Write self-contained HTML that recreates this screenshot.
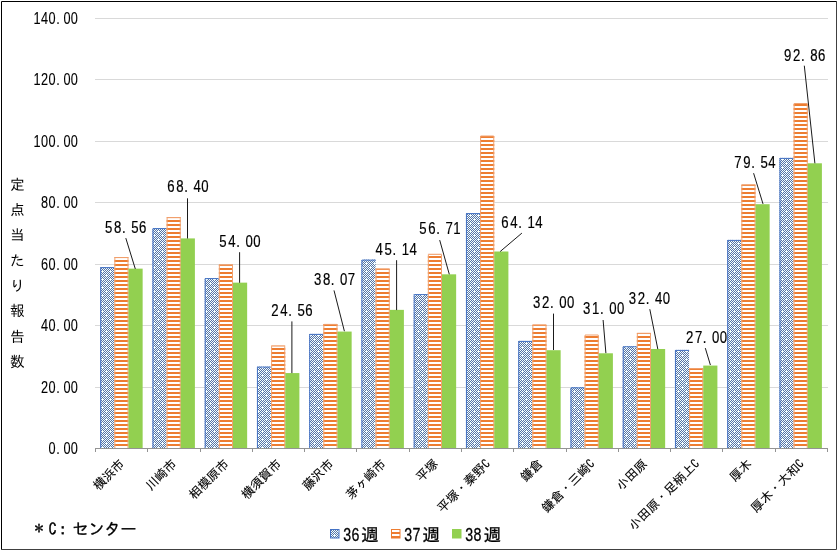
<!DOCTYPE html><html><head><meta charset="utf-8"><style>
html,body{margin:0;padding:0;background:#fff;width:838px;height:551px;overflow:hidden}
svg{display:block}
text{font-family:"IPAGothic","Liberation Sans",sans-serif;fill:#000;stroke:#000;stroke-width:0.3px}
.ax,.dl,.lgd{font-family:"Liberation Sans",sans-serif}
.ax{font-size:16.5px;stroke-width:0.1px}
.dl{font-size:16.8px;stroke-width:0.2px}
.cat{font-size:12.5px;stroke-width:0.12px}
.tt{font-size:14.7px;stroke:none}
.fn{font-size:16px}
.lgd{font-size:19.2px}
.lgk{font-size:17.5px}
</style></head><body>
<svg width="838" height="551" viewBox="0 0 838 551">
<defs>
<pattern id="pb" patternUnits="userSpaceOnUse" x="0" y="0" width="8" height="8"><rect width="8" height="8" fill="#F4FFFF"/><path fill="#5873A6" d="M1 0h1v1h-1zM3 0h1v1h-1zM5 0h1v1h-1zM7 0h1v1h-1zM0 1h1v1h-1zM2 1h1v1h-1zM4 1h1v1h-1zM6 1h1v1h-1zM1 2h1v1h-1zM3 2h1v1h-1zM5 2h1v1h-1zM7 2h1v1h-1zM0 3h1v1h-1zM4 3h1v1h-1zM6 3h1v1h-1zM1 4h1v1h-1zM3 4h1v1h-1zM5 4h1v1h-1zM7 4h1v1h-1zM0 5h1v1h-1zM2 5h1v1h-1zM4 5h1v1h-1zM6 5h1v1h-1zM1 6h1v1h-1zM3 6h1v1h-1zM5 6h1v1h-1zM7 6h1v1h-1zM0 7h1v1h-1zM2 7h1v1h-1zM4 7h1v1h-1z"/></pattern>
<pattern id="po" patternUnits="userSpaceOnUse" x="0" y="0" width="4" height="4"><rect width="4" height="4" fill="#fff"/><rect width="4" height="2" fill="#ED7D31"/></pattern>
</defs>
<rect x="0" y="0" width="838" height="551" fill="#fff"/>
<line x1="95" y1="387.5" x2="828" y2="387.5" stroke="#D9D9D9" stroke-width="1"/>
<line x1="95" y1="325.5" x2="828" y2="325.5" stroke="#D9D9D9" stroke-width="1"/>
<line x1="95" y1="264.5" x2="828" y2="264.5" stroke="#D9D9D9" stroke-width="1"/>
<line x1="95" y1="202.5" x2="828" y2="202.5" stroke="#D9D9D9" stroke-width="1"/>
<line x1="95" y1="141.5" x2="828" y2="141.5" stroke="#D9D9D9" stroke-width="1"/>
<line x1="95" y1="79.5" x2="828" y2="79.5" stroke="#D9D9D9" stroke-width="1"/>
<line x1="95" y1="18.5" x2="828" y2="18.5" stroke="#D9D9D9" stroke-width="1"/>
<rect x="100.20" y="267.10" width="14.15" height="180.90" fill="url(#pb)"/>
<path d="M100.70 448V267.60H114.35" fill="none" stroke="#4472C4" stroke-width="1"/>
<rect x="114.35" y="257.10" width="14.15" height="190.90" fill="url(#po)"/>
<path d="M114.85 448V257.60H128.00V448" fill="none" stroke="#F1A270" stroke-width="1"/>
<rect x="128.50" y="268.64" width="14.15" height="179.36" fill="#92D050"/>
<rect x="152.45" y="228.10" width="14.15" height="219.90" fill="url(#pb)"/>
<path d="M152.95 448V228.60H166.60" fill="none" stroke="#4472C4" stroke-width="1"/>
<rect x="166.60" y="217.20" width="14.15" height="230.80" fill="url(#po)"/>
<path d="M167.10 448V217.70H180.25V448" fill="none" stroke="#F1A270" stroke-width="1"/>
<rect x="180.75" y="238.41" width="14.15" height="209.59" fill="#92D050"/>
<rect x="204.70" y="278.10" width="14.15" height="169.90" fill="url(#pb)"/>
<path d="M205.20 448V278.60H218.85" fill="none" stroke="#4472C4" stroke-width="1"/>
<rect x="218.85" y="264.50" width="14.15" height="183.50" fill="url(#po)"/>
<path d="M219.35 448V265.00H232.50V448" fill="none" stroke="#F1A270" stroke-width="1"/>
<rect x="233.00" y="282.64" width="14.15" height="165.36" fill="#92D050"/>
<rect x="256.95" y="366.60" width="14.15" height="81.40" fill="url(#pb)"/>
<path d="M257.45 448V367.10H271.10" fill="none" stroke="#4472C4" stroke-width="1"/>
<rect x="271.10" y="345.60" width="14.15" height="102.40" fill="url(#po)"/>
<path d="M271.60 448V346.10H284.75V448" fill="none" stroke="#F1A270" stroke-width="1"/>
<rect x="285.25" y="373.07" width="14.15" height="74.93" fill="#92D050"/>
<rect x="309.20" y="333.90" width="14.15" height="114.10" fill="url(#pb)"/>
<path d="M309.70 448V334.40H323.35" fill="none" stroke="#4472C4" stroke-width="1"/>
<rect x="323.35" y="323.90" width="14.15" height="124.10" fill="url(#po)"/>
<path d="M323.85 448V324.40H337.00V448" fill="none" stroke="#F1A270" stroke-width="1"/>
<rect x="337.50" y="331.57" width="14.15" height="116.43" fill="#92D050"/>
<rect x="361.45" y="259.60" width="14.15" height="188.40" fill="url(#pb)"/>
<path d="M361.95 448V260.10H375.60" fill="none" stroke="#4472C4" stroke-width="1"/>
<rect x="375.60" y="268.60" width="14.15" height="179.40" fill="url(#po)"/>
<path d="M376.10 448V269.10H389.25V448" fill="none" stroke="#F1A270" stroke-width="1"/>
<rect x="389.75" y="309.86" width="14.15" height="138.14" fill="#92D050"/>
<rect x="413.70" y="294.10" width="14.15" height="153.90" fill="url(#pb)"/>
<path d="M414.20 448V294.60H427.85" fill="none" stroke="#4472C4" stroke-width="1"/>
<rect x="427.85" y="253.90" width="14.15" height="194.10" fill="url(#po)"/>
<path d="M428.35 448V254.40H441.50V448" fill="none" stroke="#F1A270" stroke-width="1"/>
<rect x="442.00" y="274.32" width="14.15" height="173.68" fill="#92D050"/>
<rect x="465.95" y="213.10" width="14.15" height="234.90" fill="url(#pb)"/>
<path d="M466.45 448V213.60H480.10" fill="none" stroke="#4472C4" stroke-width="1"/>
<rect x="480.10" y="135.50" width="14.15" height="312.50" fill="url(#po)"/>
<path d="M480.60 448V136.00H493.75V448" fill="none" stroke="#F1A270" stroke-width="1"/>
<rect x="494.25" y="251.50" width="14.15" height="196.50" fill="#92D050"/>
<rect x="518.20" y="340.90" width="14.15" height="107.10" fill="url(#pb)"/>
<path d="M518.70 448V341.40H532.35" fill="none" stroke="#4472C4" stroke-width="1"/>
<rect x="532.35" y="324.60" width="14.15" height="123.40" fill="url(#po)"/>
<path d="M532.85 448V325.10H546.00V448" fill="none" stroke="#F1A270" stroke-width="1"/>
<rect x="546.50" y="350.21" width="14.15" height="97.79" fill="#92D050"/>
<rect x="570.45" y="387.30" width="14.15" height="60.70" fill="url(#pb)"/>
<path d="M570.95 448V387.80H584.60" fill="none" stroke="#4472C4" stroke-width="1"/>
<rect x="584.60" y="334.50" width="14.15" height="113.50" fill="url(#po)"/>
<path d="M585.10 448V335.00H598.25V448" fill="none" stroke="#F1A270" stroke-width="1"/>
<rect x="598.75" y="353.29" width="14.15" height="94.71" fill="#92D050"/>
<rect x="622.70" y="346.30" width="14.15" height="101.70" fill="url(#pb)"/>
<path d="M623.20 448V346.80H636.85" fill="none" stroke="#4472C4" stroke-width="1"/>
<rect x="636.85" y="332.90" width="14.15" height="115.10" fill="url(#po)"/>
<path d="M637.35 448V333.40H650.50V448" fill="none" stroke="#F1A270" stroke-width="1"/>
<rect x="651.00" y="348.99" width="14.15" height="99.01" fill="#92D050"/>
<rect x="674.95" y="349.90" width="14.15" height="98.10" fill="url(#pb)"/>
<path d="M675.45 448V350.40H689.10" fill="none" stroke="#4472C4" stroke-width="1"/>
<rect x="689.10" y="368.10" width="14.15" height="79.90" fill="url(#po)"/>
<path d="M689.60 448V368.60H702.75V448" fill="none" stroke="#F1A270" stroke-width="1"/>
<rect x="703.25" y="365.57" width="14.15" height="82.43" fill="#92D050"/>
<rect x="727.20" y="239.90" width="14.15" height="208.10" fill="url(#pb)"/>
<path d="M727.70 448V240.40H741.35" fill="none" stroke="#4472C4" stroke-width="1"/>
<rect x="741.35" y="184.50" width="14.15" height="263.50" fill="url(#po)"/>
<path d="M741.85 448V185.00H755.00V448" fill="none" stroke="#F1A270" stroke-width="1"/>
<rect x="755.50" y="204.20" width="14.15" height="243.80" fill="#92D050"/>
<rect x="779.45" y="157.90" width="14.15" height="290.10" fill="url(#pb)"/>
<path d="M779.95 448V158.40H793.60" fill="none" stroke="#4472C4" stroke-width="1"/>
<rect x="793.60" y="103.00" width="14.15" height="345.00" fill="url(#po)"/>
<path d="M794.10 448V103.50H807.25V448" fill="none" stroke="#F1A270" stroke-width="1"/>
<rect x="807.75" y="163.29" width="14.15" height="284.71" fill="#92D050"/>
<path d="M95 448.5H828" stroke="#939393" stroke-width="1" fill="none"/>
<path d="M95.5 448V452M147.5 448V452M200.5 448V452M252.5 448V452M304.5 448V452M356.5 448V452M409.5 448V452M461.5 448V452M513.5 448V452M566.5 448V452M618.5 448V452M670.5 448V452M722.5 448V452M775.5 448V452M827.5 448V452" stroke="#939393" stroke-width="1" fill="none"/>
<text class="ax" transform="translate(0 453.69) scale(0.77 1)" x="63.02 73.01 82.37 91.73" y="0">0.00</text>
<text class="ax" transform="translate(0 392.69) scale(0.77 1)" x="53.15 63.02 73.01 82.37 91.73" y="0">20.00</text>
<text class="ax" transform="translate(0 330.69) scale(0.77 1)" x="53.15 63.02 73.01 82.37 91.73" y="0">40.00</text>
<text class="ax" transform="translate(0 269.69) scale(0.77 1)" x="53.15 63.02 73.01 82.37 91.73" y="0">60.00</text>
<text class="ax" transform="translate(0 207.69) scale(0.77 1)" x="53.15 63.02 73.01 82.37 91.73" y="0">80.00</text>
<text class="ax" transform="translate(0 146.69) scale(0.77 1)" x="43.67 53.15 63.02 73.01 82.37 91.73" y="0">100.00</text>
<text class="ax" transform="translate(0 84.69) scale(0.77 1)" x="43.67 53.15 63.02 73.01 82.37 91.73" y="0">120.00</text>
<text class="ax" transform="translate(0 23.69) scale(0.77 1)" x="43.67 53.15 63.02 73.01 82.37 91.73" y="0">140.00</text>
<path d="M125.8 238.1L135.3 268.9M187.5 198.3L187.5 238.5M239.6 252.2L239.6 282.8M291.9 321.4L291.9 373.1M334.0 290.4L344.4 331.2M396.6 260.2L396.6 310.1M439.7 240.1L449.3 274.3M521.9 233.1L500.2 251.5M553.5 313.6L553.5 350.0M603.1 320.0L605.9 353.1M649.8 309.2L657.8 349.1M705.3 348.1L710.4 365.0M753.6 173.2L763.0 203.9M804.3 65.7L814.9 163.3" stroke="#1a1a1a" stroke-width="1" fill="none"/>
<text class="dl" transform="translate(0 232.75) scale(0.785 1)" x="133.89 145.36 155.48 167.27 177.14" y="0">58.56</text>
<text class="dl" transform="translate(0 191.85) scale(0.785 1)" x="213.00 224.47 234.59 246.38 256.25" y="0">68.40</text>
<text class="dl" transform="translate(0 246.85) scale(0.785 1)" x="279.24 290.71 300.83 312.62 322.49" y="0">54.00</text>
<text class="dl" transform="translate(0 315.75) scale(0.785 1)" x="345.61 357.08 367.20 378.99 388.86" y="0">24.56</text>
<text class="dl" transform="translate(0 284.85) scale(0.785 1)" x="399.88 411.35 421.47 433.26 443.13" y="0">38.07</text>
<text class="dl" transform="translate(0 254.85) scale(0.785 1)" x="478.48 489.94 500.07 511.86 521.73" y="0">45.14</text>
<text class="dl" transform="translate(0 233.75) scale(0.785 1)" x="534.02 545.49 555.61 567.40 577.27" y="0">56.71</text>
<text class="dl" transform="translate(0 227.75) scale(0.785 1)" x="638.48 649.94 660.07 671.86 681.73" y="0">64.14</text>
<text class="dl" transform="translate(0 307.85) scale(0.785 1)" x="679.12 690.58 700.71 712.49 722.37" y="0">32.00</text>
<text class="dl" transform="translate(0 313.75) scale(0.785 1)" x="742.68 754.15 764.27 776.06 785.93" y="0">31.00</text>
<text class="dl" transform="translate(0 303.80) scale(0.785 1)" x="801.03 812.49 822.62 834.40 844.28" y="0">32.40</text>
<text class="dl" transform="translate(0 342.85) scale(0.785 1)" x="873.77 885.23 895.36 907.14 917.01" y="0">27.00</text>
<text class="dl" transform="translate(0 167.85) scale(0.785 1)" x="935.29 946.76 956.88 968.67 978.54" y="0">79.54</text>
<text class="dl" transform="translate(0 60.85) scale(0.785 1)" x="998.86 1010.33 1020.45 1032.24 1042.11" y="0">92.86</text>
<text class="cat" text-anchor="end" transform="translate(125.1 464.6) rotate(-45)">横浜市</text>
<text class="cat" text-anchor="end" transform="translate(177.4 464.6) rotate(-45)">川崎市</text>
<text class="cat" text-anchor="end" transform="translate(229.7 464.6) rotate(-45)">相模原市</text>
<text class="cat" text-anchor="end" transform="translate(282.0 464.6) rotate(-45)">横須賀市</text>
<text class="cat" text-anchor="end" transform="translate(334.3 464.6) rotate(-45)">藤沢市</text>
<text class="cat" text-anchor="end" transform="translate(386.6 464.6) rotate(-45)">茅ヶ崎市</text>
<text class="cat" text-anchor="end" transform="translate(438.9 464.6) rotate(-45)">平塚</text>
<text class="cat" text-anchor="end" transform="translate(491.1 464.6) rotate(-45)">平塚・秦野C</text>
<text class="cat" text-anchor="end" transform="translate(543.4 464.6) rotate(-45)">鎌倉</text>
<text class="cat" text-anchor="end" transform="translate(595.7 464.6) rotate(-45)">鎌倉・三崎C</text>
<text class="cat" text-anchor="end" transform="translate(648.0 464.6) rotate(-45)">小田原</text>
<text class="cat" text-anchor="end" transform="translate(700.3 464.6) rotate(-45)">小田原・足柄上C</text>
<text class="cat" text-anchor="end" transform="translate(752.6 464.6) rotate(-45)">厚木</text>
<text class="cat" text-anchor="end" transform="translate(804.9 464.6) rotate(-45)">厚木・大和C</text>
<text class="tt" x="9.9" y="189.5">定</text>
<text class="tt" x="9.9" y="214.9">点</text>
<text class="tt" x="9.9" y="240.2">当</text>
<text class="tt" x="9.9" y="265.6">た</text>
<text class="tt" x="9.9" y="290.9">り</text>
<text class="tt" x="9.9" y="316.3">報</text>
<text class="tt" x="9.9" y="341.7">告</text>
<text class="tt" x="9.9" y="367.0">数</text>
<text class="fn" x="32.5" y="532.9" style="font-size:13px">＊</text>
<text class="fn" x="48.5 54.6 72.2 88.3 104.3 120.3" y="534.6" style="font-size:16.5px">C：センター</text>
<rect x="330.5" y="529.5" width="8.5" height="8.5" fill="url(#pb)" stroke="#4472C4" stroke-width="1"/>
<text class="lgd" transform="translate(0 540.5) scale(0.74 1)" x="463.87 474.95" y="0">36</text>
<text class="lgk" x="361.05" y="540.6">週</text>
<rect x="391.5" y="529.5" width="8.5" height="8.5" fill="url(#po)" stroke="#ED7D31" stroke-width="1"/>
<text class="lgd" transform="translate(0 540.5) scale(0.74 1)" x="546.30 557.38" y="0">37</text>
<text class="lgk" x="422.25" y="540.6">週</text>
<rect x="452" y="529" width="9.5" height="9.5" fill="#92D050"/>
<text class="lgd" transform="translate(0 540.5) scale(0.74 1)" x="628.73 639.81" y="0">38</text>
<text class="lgk" x="483.45" y="540.6">週</text>
<path d="M1.5 549.5V1.5H836" stroke="#000" stroke-width="1" fill="none"/>
<path d="M836.5 1V549.5H1" stroke="#404040" stroke-width="1" fill="none"/>
</svg></body></html>
